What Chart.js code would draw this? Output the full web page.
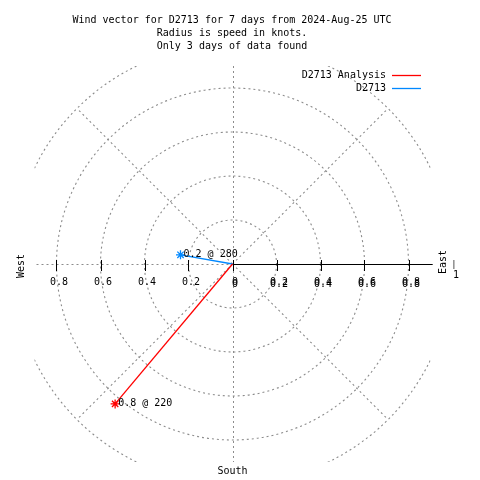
<!DOCTYPE html>
<html>
<head>
<meta charset="utf-8">
<script src="https://cdn.jsdelivr.net/npm/chart.js@4"></script>
<style>
  body { margin: 0; background: #fff; }
  #wrap { width: 480px; height: 480px; }
</style>
</head>
<body>
<div id="wrap"><canvas id="windChart" width="480" height="480"></canvas></div>
<script>
// data
const seriesNames = ['D2713 Analysis', 'D2713'];
const speeds = [0.83, 0.24];        // knots
const directions = [220, 280];      // degrees
const seriesColors = ['#ff0000', '#0088ff'];
const ringRadii = [0.2, 0.4, 0.6, 0.8, 1.0];
const spokeAngles = [45, 135, 225, 315];
const tickValues = [-0.8, -0.6, -0.4, -0.2, 0, 0.2, 0.4, 0.6, 0.8];
const tickLabels = ['0.8', '0.6', '0.4', '0.2', '0', '0.2', '0.4', '0.6', '0.8'];
const titleLines = [
  'Wind vector for D2713 for 7 days from 2024-Aug-25 UTC',
  'Radius is speed in knots.',
  'Only 3 days of data found'
];

const FONT = '10px "DejaVu Sans Mono", monospace';
const GRID = '#8c8c8c';

const datasets = speeds.map((s, i) => {
  const rad = directions[i] * Math.PI / 180;
  return {
    label: seriesNames[i],
    data: [{x: 0, y: 0}, {x: s * Math.sin(rad), y: s * Math.cos(rad)}],
    borderColor: seriesColors[i],
    backgroundColor: seriesColors[i],
    borderWidth: 1.3,
    showLine: true,
    pointStyle: 'star',
    pointRadius: [0, 4.5],
    pointBorderWidth: 1.3,
    pointBorderColor: seriesColors[i]
  };
});

// grid, axis, texts
const polarGrid = {
  id: 'polarGrid',
  beforeDatasetsDraw(chart) {
    const ctx = chart.ctx;
    const xs = chart.scales.x, ys = chart.scales.y;
    const a = chart.chartArea;
    const cx = xs.getPixelForValue(0), cy = ys.getPixelForValue(0);
    const unit = xs.getPixelForValue(1) - cx;
    const hx = Math.round(cx) + 0.5, hy = Math.round(cy) + 0.5;
    ctx.save();
    ctx.beginPath();
    ctx.rect(a.left, a.top, a.right - a.left, a.bottom - a.top);
    ctx.clip();
    ctx.strokeStyle = GRID;
    ctx.lineWidth = 1.1;
    ctx.setLineDash([2, 3]);
    ringRadii.forEach(r => {
      ctx.beginPath();
      ctx.arc(cx, cy, r * unit, 0, Math.PI * 2);
      ctx.stroke();
    });
    spokeAngles.forEach(ang => {
      const t = ang * Math.PI / 180;
      ctx.beginPath();
      ctx.moveTo(cx, cy);
      ctx.lineTo(xs.getPixelForValue(Math.cos(t)), ys.getPixelForValue(Math.sin(t)));
      ctx.stroke();
    });
    ctx.lineWidth = 1;
    ctx.beginPath();
    ctx.moveTo(a.left - 3, hy); ctx.lineTo(a.right + 4, hy);
    ctx.moveTo(hx, a.top); ctx.lineTo(hx, a.bottom);
    ctx.stroke();
    ctx.restore();

    // solid axis with ticks
    ctx.save();
    ctx.strokeStyle = '#000';
    ctx.lineWidth = 1;
    ctx.beginPath();
    ctx.moveTo(cx, hy);
    ctx.lineTo(xs.getPixelForValue(0.91), hy);
    tickValues.forEach(v => {
      const px = Math.round(xs.getPixelForValue(v)) + 0.5;
      ctx.moveTo(px, cy - 4);
      ctx.lineTo(px, cy + 7);
    });
    ctx.stroke();

    ctx.fillStyle = '#000';
    ctx.font = FONT;
    ctx.textAlign = 'center';
    ctx.textBaseline = 'middle';
    tickValues.forEach((v, i) => {
      const px = xs.getPixelForValue(v) + 2.5;
      ctx.fillText(tickLabels[i], px, cy + 18);
      if (v >= 0) ctx.fillText(tickLabels[i], px, cy + 20.5);
    });
    ctx.restore();
  },
  afterDraw(chart) {
    const ctx = chart.ctx;
    const xs = chart.scales.x, ys = chart.scales.y;
    const cx = xs.getPixelForValue(0), cy = ys.getPixelForValue(0);
    ctx.save();
    ctx.fillStyle = '#000';
    ctx.font = FONT;
    ctx.textBaseline = 'middle';

    ctx.textAlign = 'center';
    titleLines.forEach((t, i) => ctx.fillText(t, 232, 20 + i * 13));

    // vector labels
    ctx.textAlign = 'left';
    chart.data.datasets.forEach((ds, i) => {
      const p = ds.data[1];
      ctx.fillText(speeds[i].toFixed(1) + ' @ ' + directions[i],
        xs.getPixelForValue(p.x) + 3, ys.getPixelForValue(p.y));
    });

    // legend
    ctx.textAlign = 'right';
    seriesNames.forEach((n, i) => {
      const y = 75 + i * 13;
      ctx.fillText(n, 386, y);
      ctx.strokeStyle = seriesColors[i];
      ctx.lineWidth = 1.3;
      ctx.beginPath();
      ctx.moveTo(392, y + 0.5);
      ctx.lineTo(421, y + 0.5);
      ctx.stroke();
    });

    // compass labels
    ctx.textAlign = 'center';
    ctx.fillText('South', cx, 471);
    ctx.save();
    ctx.translate(21, cy + 2);
    ctx.rotate(-Math.PI / 2);
    ctx.fillText('West', 0, 0);
    ctx.restore();
    ctx.save();
    ctx.translate(443.5, cy - 2);
    ctx.rotate(-Math.PI / 2);
    ctx.fillText('East', 0, 0);
    ctx.restore();
    ctx.font = '8px "DejaVu Sans Mono", monospace';
    ctx.fillText('|', 454, cy + 1);
    ctx.font = FONT;
    ctx.fillText('1', 456, cy + 11);
    ctx.restore();
  }
};

const ctx = document.getElementById('windChart').getContext('2d');
const windChart = new Chart(ctx, {
  type: 'scatter',
  data: { datasets: datasets },
  options: {
    responsive: false,
    animation: false,
    layout: { padding: { left: 34.5, right: 49.5, top: 66, bottom: 18 } },
    scales: {
      x: { type: 'linear', min: -0.9, max: 0.9, display: false },
      y: { type: 'linear', min: -0.9, max: 0.9, display: false }
    },
    plugins: {
      legend: { display: false },
      title: { display: false },
      tooltip: { enabled: false }
    }
  },
  plugins: [polarGrid]
});
</script>
</body>
</html>
